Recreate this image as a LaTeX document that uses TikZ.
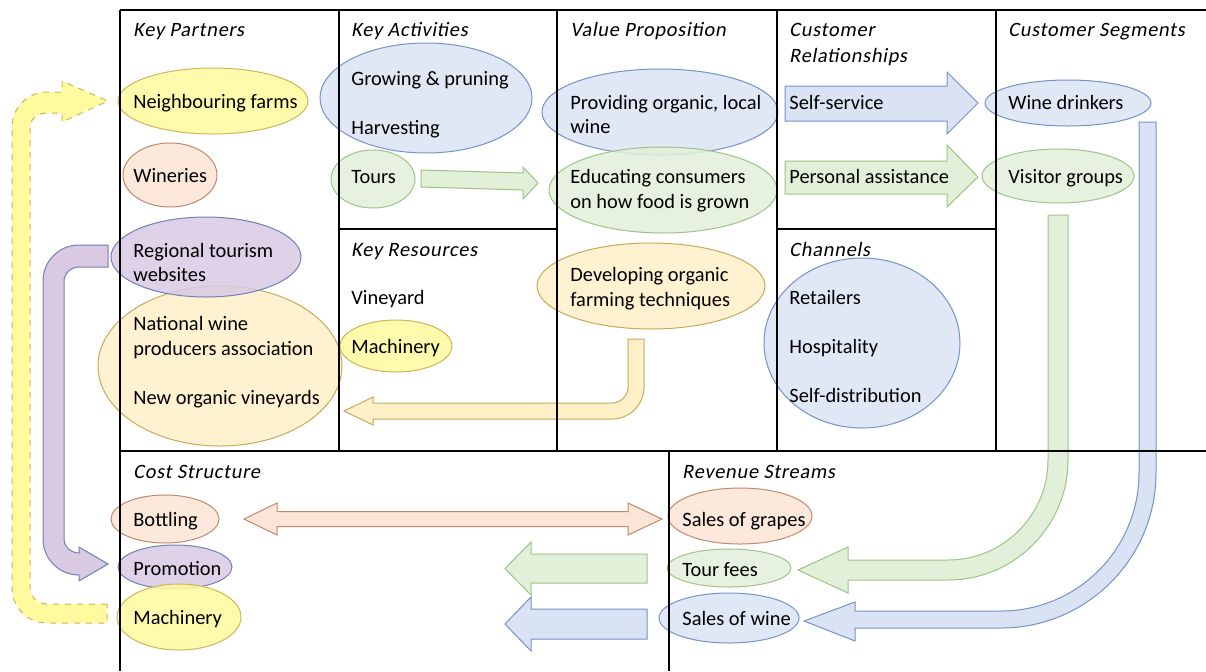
\documentclass[tikz,border=0pt]{standalone}
\usepackage{fontspec}
\setmainfont{Carlito}
\newfontfamily\hdrfont[FakeSlant=0.18,LetterSpace=3.5]{Carlito}
\usetikzlibrary{shapes.geometric}
\definecolor{blueF}{HTML}{DAE3F3}
\definecolor{blueD}{HTML}{7393C9}
\definecolor{greenF}{HTML}{E2F0D9}
\definecolor{greenD}{HTML}{9DC385}
\definecolor{peachF}{HTML}{FBE5D6}
\definecolor{peachD}{HTML}{C0896A}
\definecolor{yelF}{HTML}{FFFA9E}
\definecolor{yelD}{HTML}{D2B355}
\definecolor{goldF}{HTML}{FFF0C8}
\definecolor{goldD}{HTML}{C8A95A}
\definecolor{purF}{HTML}{D9C9E3}
\definecolor{purD}{HTML}{6F80B4}
\tikzset{
  ell/.style={ellipse, inner sep=0pt, line width=0.5pt, fill opacity=0.85},
  eblue/.style={ell, fill=blueF, draw=blueD},
  egreen/.style={ell, fill=greenF, draw=greenD},
  epeach/.style={ell, fill=peachF, draw=peachD},
  eyel/.style={ell, fill=yelF, draw=yelD},
  egold/.style={ell, fill=goldF, draw=goldD},
  epur/.style={ell, fill=purF, draw=purD},
  barrow/.style={line width=0.5pt, line join=miter},
  grid/.style={line width=0.7pt, black},
  txt/.style={anchor=base west, inner sep=0pt, font=\fontsize{10.2}{12}\selectfont},
  hdr/.style={anchor=base west, inner sep=0pt, font=\hdrfont\fontsize{10.2}{12}\selectfont},
}
\begin{document}
\begin{tikzpicture}[x=0.5pt,y=-0.5pt]
\useasboundingbox (0,0) rectangle (1206,671);
% ---------- ellipses ----------
\node[eyel,  minimum width=95pt,  minimum height=33pt] (nf)  at (213,101) {};
\node[epeach,minimum width=47pt,  minimum height=32pt] (win) at (170,175) {};
\node[egold, minimum width=122pt, minimum height=80pt] (nwp) at (220,366) {};
\node[epur,  minimum width=95pt,  minimum height=40pt] (rtw) at (206,257) {};
\node[eblue, minimum width=106pt, minimum height=55pt] (gp)  at (426,98) {};
\node[egreen,minimum width=42pt,  minimum height=29pt] (tou) at (373,179) {};
\node[eyel,  minimum width=56pt,  minimum height=26pt] (mak) at (396,346) {};
\node[eblue, minimum width=118pt, minimum height=43pt] (pol) at (660,112) {};
\node[egreen,minimum width=114pt, minimum height=43pt] (edu) at (663,190) {};
\node[egold, minimum width=114pt, minimum height=43pt] (dev) at (651,286) {};
\node[eblue, minimum width=98pt,  minimum height=85pt] (chn) at (862,343) {};
\node[eblue, minimum width=83pt,  minimum height=23pt] (wd)  at (1068,103) {};
\node[egreen,minimum width=76pt,  minimum height=27pt] (vg)  at (1058,176) {};
\node[epeach,minimum width=54pt,  minimum height=24pt] (bot) at (165,519) {};
\node[epur,  minimum width=57pt,  minimum height=22pt] (pro) at (175,567) {};
\node[eyel,  minimum width=62pt,  minimum height=33pt] (mac) at (179,617) {};
\node[epeach,minimum width=72pt,  minimum height=28pt] (sog) at (740,516) {};
\node[egreen,minimum width=62pt,  minimum height=19pt] (tf)  at (729,568) {};
\node[eblue, minimum width=70pt,  minimum height=25pt] (sow) at (729,618) {};
% ---------- block arrows ----------
% self-service
\draw[barrow, fill=blueF, draw=blueD] (785,86) -- (947,86) -- (947,72) -- (978,103) -- (947,134) -- (947,121) -- (785,121) -- cycle;
% personal assistance
\draw[barrow, fill=greenF, draw=greenD] (785,161) -- (947,161) -- (947,145) -- (978,177) -- (947,207) -- (947,194) -- (785,194) -- cycle;
% tours -> educating
\draw[barrow, fill=greenF, draw=greenD] (421,170) -- (523,173) -- (523,167) -- (538,183) -- (523,199) -- (523,190) -- (421,187) -- cycle;
% developing -> key partners
\draw[barrow, fill=goldF, draw=goldD] (628,339) -- (644,339) -- (644,387) .. controls (644,404.7) and (629.7,419) .. (612,419) -- (373,419) -- (373,425) -- (344,411) -- (373,397) -- (373,403) -- (612,403) .. controls (620.8,403) and (628,395.8) .. (628,387) -- cycle;
% regional tourism -> promotion
\draw[barrow, fill=purF, draw=purD] (108,245) -- (79,245) .. controls (59.1,245) and (43,261.1) .. (43,281) -- (43,539) .. controls (43,558.9) and (59.1,575) .. (79,575) -- (79,581) -- (108,564) -- (79,547) -- (79,553) .. controls (71.3,553) and (64,546.7) .. (64,539) -- (64,281) .. controls (64,273.3) and (71.3,267) .. (79,267) -- (108,267) -- cycle;
% machinery -> neighbouring farms (dashed)
\draw[barrow, fill=yelF, draw=yelD, dashed] (107,604) -- (47,604) .. controls (37.6,604) and (30,596.8) .. (30,588) -- (30,127) .. controls (30,119.3) and (37.6,113) .. (47,113) -- (62,113) -- (62,122) -- (108,101) -- (62,81) -- (62,92) -- (47,92) .. controls (27.7,92) and (12,107.7) .. (12,127) -- (12,588) .. controls (12,607.3) and (27.7,623) .. (47,623) -- (107,623) -- cycle;
% bottling <-> sales of grapes
\draw[barrow, fill=peachF, draw=peachD] (244,519) -- (277,503) -- (277,511.5) -- (628,511.5) -- (628,503) -- (662,519) -- (628,535) -- (628,526.5) -- (277,526.5) -- (277,535) -- cycle;
% green left (cost)
\draw[barrow, fill=greenF, draw=greenD] (647,554) -- (531,554) -- (531,542) -- (505,568.5) -- (531,595) -- (531,583) -- (647,583) -- cycle;
% blue left (cost)
\draw[barrow, fill=blueF, draw=blueD] (647,609) -- (531,609) -- (531,597) -- (505,624) -- (531,651) -- (531,639) -- (647,639) -- cycle;
% visitor groups -> tour fees
\draw[barrow, fill=greenF, draw=greenD] (1048,215) -- (1068,215) -- (1068,460) .. controls (1068,526.3) and (1014.3,580) .. (948,580) -- (848,580) -- (848,593) -- (798,570) -- (848,547) -- (848,560) -- (948,560) .. controls (1003.2,560) and (1048,515.2) .. (1048,460) -- cycle;
% wine drinkers -> sales of wine
\draw[barrow, fill=blueF, draw=blueD] (1139,122) -- (1156,122) -- (1156,473) .. controls (1156,558.6) and (1086.6,628) .. (1001,628) -- (855,628) -- (855,641) -- (804,621) -- (855,602) -- (855,611) -- (1001,611) .. controls (1077.2,611) and (1139,549.2) .. (1139,473) -- cycle;
% ---------- grid ----------
\draw[grid] (120,10) -- (1206,10);
\draw[grid] (120,10) -- (120,671);
\draw[grid] (339,10) -- (339,451);
\draw[grid] (557,10) -- (557,451);
\draw[grid] (777,10) -- (777,451);
\draw[grid] (996,10) -- (996,451);
\draw[grid] (339,229) -- (557,229);
\draw[grid] (777,229) -- (996,229);
\draw[grid] (120,451) -- (1206,451);
\draw[grid] (669,451) -- (669,671);
% ---------- headers ----------
\node[hdr] (h1) at (133,36) {Key Partners};
\node[hdr] (h2) at (351,36) {Key Activities};
\node[hdr] (h3) at (570,36) {Value Proposition};
\node[hdr] (h4) at (789,36) {Customer};
\node[hdr] (h4b) at (789,62) {Relationships};
\node[hdr] (h5) at (1008,36) {Customer Segments};
\node[hdr] (h6) at (351,256) {Key Resources};
\node[hdr] (h7) at (789,256) {Channels};
\node[hdr] (h8) at (133,478) {Cost Structure};
\node[hdr] (h9) at (682,478) {Revenue Streams};
% ---------- texts ----------
\node[txt] (tnf) at (133,108) {Neighbouring farms};
\node[txt] (twin) at (133,182) {Wineries};
\node[txt] (trtw) at (133,257) {Regional tourism};
\node[txt] (trtw2) at (133,281) {websites};
\node[txt] (tnwp) at (133,330) {National wine};
\node[txt] (tnwp2) at (133,355) {producers association};
\node[txt] (tnov) at (133,404) {New organic vineyards};
\node[txt] (tgp) at (351,85) {Growing \& pruning};
\node[txt] (thv) at (351,134) {Harvesting};
\node[txt] (ttou) at (351,183) {Tours};
\node[txt] (tvin) at (351,304) {Vineyard};
\node[txt] (tmak) at (351,353) {Machinery};
\node[txt] (tpol) at (570,109) {Providing organic, local};
\node[txt] (tpol2) at (570,133) {wine};
\node[txt] (tedu) at (570,183) {Educating consumers};
\node[txt] (tedu2) at (570,208) {on how food is grown};
\node[txt] (tdev) at (570,281) {Developing organic};
\node[txt] (tdev2) at (570,306) {farming techniques};
\node[txt] (tss) at (789,109) {Self-service};
\node[txt] (tpa) at (789,183) {Personal assistance};
\node[txt] (tret) at (789,304) {Retailers};
\node[txt] (thos) at (789,353) {Hospitality};
\node[txt] (tsd) at (789,402) {Self-distribution};
\node[txt] (twd) at (1008,109) {Wine drinkers};
\node[txt] (tvg) at (1008,183) {Visitor groups};
\node[txt] (tbot) at (133,526) {Bottling};
\node[txt] (tpro) at (133,575) {Promotion};
\node[txt] (tmac) at (133,624) {Machinery};
\node[txt] (tsog) at (682,526) {Sales of grapes};
\node[txt] (ttf) at (682,576) {Tour fees};
\node[txt] (tsow) at (682,625) {Sales of wine};
\end{tikzpicture}
\end{document}
